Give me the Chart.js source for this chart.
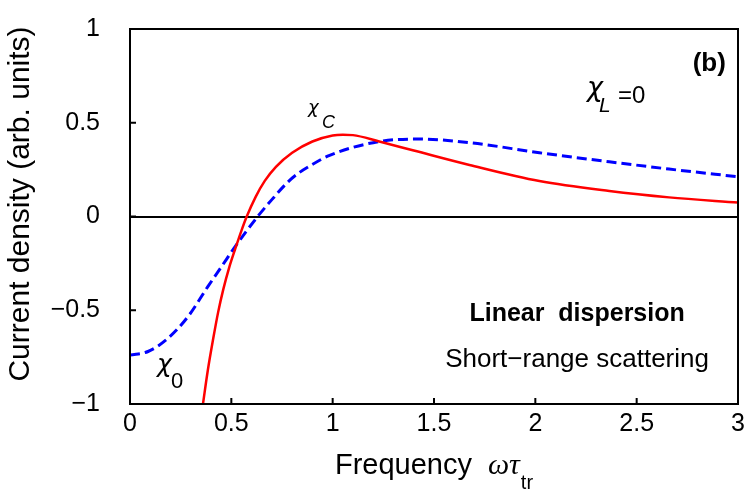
<!DOCTYPE html>
<html>
<head>
<meta charset="utf-8">
<script src="https://cdn.jsdelivr.net/npm/chart.js@4.4.1/dist/chart.umd.min.js"></script>
<style>
  body { margin: 0; background: #fff; }
  #wrap { width: 747px; height: 498px; }
</style>
</head>
<body>
<div id="wrap"><canvas id="grafico" width="747" height="498"></canvas></div>
<script>
// chi_C curve (red, solid)
const rojoX = [0.36, 0.384, 0.41, 0.435, 0.46, 0.49, 0.52, 0.55, 0.576, 0.62, 0.665, 0.72, 0.8, 0.9, 1.0, 1.05, 1.1, 1.23, 1.4, 1.675, 2.02, 2.365, 2.66, 3.0]
const rojoY = [-1.0, -0.82, -0.655, -0.51, -0.39, -0.27, -0.17, -0.075, 0.0, 0.105, 0.19, 0.265, 0.34, 0.40, 0.432, 0.436, 0.434, 0.40, 0.352, 0.275, 0.189, 0.136, 0.102, 0.074]

// chi_0 curve (blue, dashed)
const azulX = [0, 0.089, 0.187, 0.286, 0.384, 0.45, 0.517, 0.63, 0.7, 0.78, 0.83, 0.88, 0.985, 1.23, 1.43, 1.675, 2.02, 2.365, 2.66, 3.0]
const azulY = [-0.739, -0.72, -0.65, -0.534, -0.374, -0.27, -0.163, 0.0, 0.09, 0.185, 0.23, 0.265, 0.326, 0.40, 0.413, 0.394, 0.34, 0.292, 0.253, 0.212]

const ejeX = { min: 0, max: 3, paso: 0.5 }
const ejeY = { min: -1, max: 1, paso: 0.5 }

const puntos = (xs, ys) => xs.map((x, i) => ({ x: x, y: ys[i] }))

Chart.defaults.font.family = '"Liberation Sans", Arial, sans-serif'
Chart.defaults.color = '#000'

// marco, ticks hacia dentro y textos
const extras = {
    id: 'extras',
    afterDatasetsDraw(chart) {
        const ctx = chart.ctx
        const a = chart.chartArea
        const sx = chart.scales.x
        const sy = chart.scales.y
        ctx.save()
        ctx.strokeStyle = '#000'
        ctx.lineWidth = 2
        ctx.strokeRect(a.left, a.top, a.right - a.left, a.bottom - a.top)
        ctx.beginPath()
        sx.ticks.forEach(t => {
            const p = sx.getPixelForValue(t.value)
            ctx.moveTo(p, a.bottom)
            ctx.lineTo(p, a.bottom - 6)
        })
        sy.ticks.forEach(t => {
            const p = sy.getPixelForValue(t.value)
            ctx.moveTo(a.left, p)
            ctx.lineTo(a.left + 6, p)
        })
        ctx.stroke()
        ctx.restore()
    },
    afterDraw(chart) {
        const ctx = chart.ctx
        const a = chart.chartArea
        const sx = chart.scales.x
        const sy = chart.scales.y
        const px = v => sx.getPixelForValue(v)
        const py = v => sy.getPixelForValue(v)
        const put = (txt, font, x, y, align) => {
            ctx.font = font
            ctx.textAlign = align || 'left'
            ctx.fillText(txt, x, y)
        }
        ctx.save()
        ctx.fillStyle = '#000'
        ctx.textBaseline = 'alphabetic'

        // chi_C
        let x0 = px(0.878), y0 = py(0.552)
        put('χ', 'italic 18px "DejaVu Sans"', x0, y0)
        put('C', 'italic 18px "Liberation Sans"', x0 + 14, y0 + 15)

        // chi_L = 0
        x0 = px(2.255); y0 = py(0.643)
        put('χ', 'italic 27px "DejaVu Sans"', x0, y0)
        put('L', 'italic 21px "Liberation Sans"', x0 + 12, y0 + 16)
        put('=0', '24px "Liberation Sans"', x0 + 31, y0 + 7)

        // chi_0
        x0 = px(0.133); y0 = py(-0.83)
        put('χ', 'italic 25px "DejaVu Sans"', x0, y0)
        put('0', '22px "Liberation Sans"', x0 + 14, y0 + 16)

        put('(b)', 'bold 26px "Liberation Sans"', px(2.94), py(0.776), 'right')
        put('Linear  dispersion', 'bold 25px "Liberation Sans"', px(2.206), py(-0.557), 'center')
        put('Short\u2212range scattering', '26px "Liberation Sans"', px(2.206), py(-0.803), 'center')

        // titulo eje x: Frequency  ωτ_tr
        const f1 = '29px "Liberation Sans"'
        const f2 = 'italic 30px "Liberation Serif"'
        const f3 = '20px "Liberation Sans"'
        ctx.font = f1
        const w1 = ctx.measureText('Frequency').width
        ctx.font = f2
        const w2 = ctx.measureText('ωτ').width
        ctx.font = f3
        const w3 = ctx.measureText('tr').width
        const total = w1 + 16 + w2 + 1 + w3
        let xt = (a.left + a.right) / 2 - total / 2
        const yt = a.bottom + 70
        put('Frequency', f1, xt, yt)
        xt += w1 + 16
        put('ωτ', f2, xt, yt)
        xt += w2 + 1
        put('tr', f3, xt, yt + 15)
        ctx.restore()
    }
}

const sinRelleno = s => {
    s.paddingTop = 0
    s.paddingBottom = 0
    s.paddingLeft = 0
    s.paddingRight = 0
}

const ctx = document.getElementById('grafico')
const grafico = new Chart(ctx, {
    type: 'line',
    data: {
        datasets: [{
            label: 'chi_C',
            data: puntos(rojoX, rojoY),
            borderColor: '#ff0000',
            borderWidth: 2.5,
            pointRadius: 0,
            cubicInterpolationMode: 'monotone',
            fill: false
        }, {
            label: 'chi_0',
            data: puntos(azulX, azulY),
            borderColor: '#0000ff',
            borderWidth: 3,
            borderDash: [10, 5],
            pointRadius: 0,
            cubicInterpolationMode: 'monotone',
            fill: false
        }]
    },
    options: {
        responsive: false,
        animation: false,
        layout: { padding: { top: 29, right: 9, left: 0, bottom: 0 } },
        plugins: { legend: { display: false }, tooltip: { enabled: false } },
        scales: {
            x: {
                type: 'linear',
                min: ejeX.min,
                max: ejeX.max,
                afterFit: s => { s.height = 94; sinRelleno(s) },
                border: { display: false },
                grid: { display: false, drawTicks: false },
                ticks: {
                    stepSize: ejeX.paso,
                    padding: 5,
                    font: { size: 25 },
                    maxRotation: 0,
                    callback: v => String(v)
                },
                title: { display: false }
            },
            y: {
                type: 'linear',
                min: ejeY.min,
                max: ejeY.max,
                afterFit: s => { s.width = 130; sinRelleno(s) },
                border: { display: false },
                grid: {
                    drawTicks: false,
                    color: c => c.tick.value === 0 ? '#000' : 'rgba(0,0,0,0)',
                    lineWidth: 2
                },
                ticks: {
                    stepSize: ejeY.paso,
                    padding: 30,
                    font: { size: 25 },
                    callback: v => String(v).replace('-', '\u2212')
                },
                title: {
                    display: true,
                    text: '   Current density (arb. units)',
                    font: { size: 30 },
                    padding: { top: 3, bottom: 0 }
                }
            }
        }
    },
    plugins: [extras]
})
</script>
</body>
</html>
